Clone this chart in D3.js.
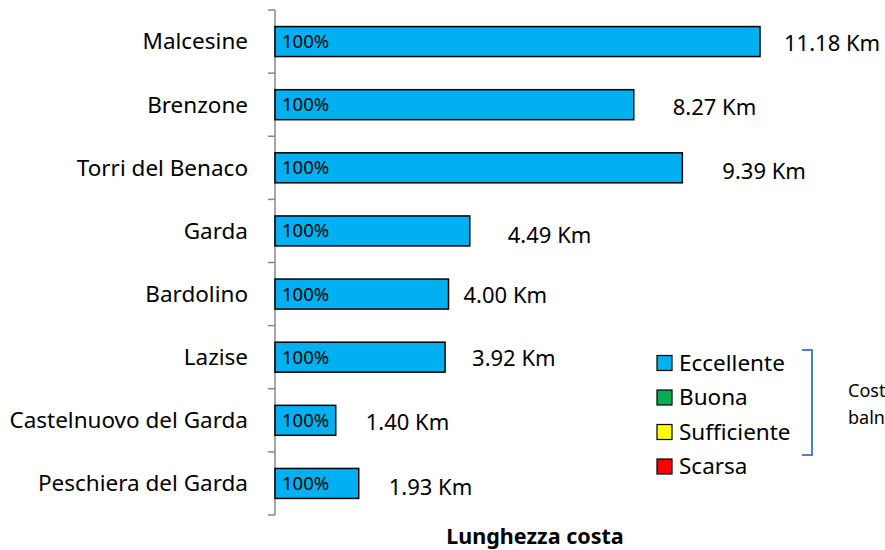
<!DOCTYPE html>
<html><head><meta charset="utf-8">
<script src="https://cdn.jsdelivr.net/npm/d3@7"></script>
<style>body{margin:0;background:#fff;} svg{display:block;font-family:"Noto Sans", "Open Sans", sans-serif;}</style>
</head><body>
<svg id="c" width="885" height="550"></svg>
<script>
const categories = ["Malcesine","Brenzone","Torri del Benaco","Garda","Bardolino","Lazise","Castelnuovo del Garda","Peschiera del Garda"];
const lengthKm = [11.18, 8.27, 9.39, 4.49, 4.00, 3.92, 1.40, 1.93];
const sharePct = [100, 100, 100, 100, 100, 100, 100, 100];
const legendLabels = ["Eccellente","Buona","Sufficiente","Scarsa"];
const legendColors = ["#00B0F0","#00B050","#FFFF00","#FF0000"];
const axisTitle = "Lunghezza costa";
const sideNote = ["Cost","baln"];

// layout of the manually placed value labels (pixels, gap after bar end / vertical nudge)
const labelGap = [24, 39, 40, 38, 15, 27, 30, 30];
const labelNudge = [2, 3, 3, 4, 1, 1, 2, 4];

const svg = d3.select("#c");
const x0 = 275;
const x = d3.scaleLinear().domain([0, 11.18]).range([x0, 760]);
const y = d3.scaleBand().domain(categories).range([10, 515]).paddingInner(0.525).paddingOuter(0.2625);

// axis
const ax = svg.append("g");
ax.append("line").attr("x1",x0).attr("x2",x0).attr("y1",10).attr("y2",515).attr("stroke","#888").attr("stroke-width",1.5);
const tickYs = d3.range(categories.length+1).map(i => 10 + i*y.step());
ax.selectAll("line.t").data(tickYs).join("line").attr("class","t")
  .attr("x1",x0-7).attr("x2",x0).attr("y1",d=>d).attr("y2",d=>d).attr("stroke","#888").attr("stroke-width",1.5);

// category labels
svg.selectAll("text.cat").data(categories).join("text").attr("class","cat")
  .attr("x",248).attr("y",d=>y(d)+y.bandwidth()/2).attr("dy","0.35em")
  .attr("text-anchor","end").attr("font-size",22.5).attr("fill","#000").text(d=>d);

// bars
svg.selectAll("rect.bar").data(categories).join("rect").attr("class","bar")
  .attr("x",x0).attr("y",d=>y(d)).attr("width",(d,i)=>x(lengthKm[i])-x0).attr("height",y.bandwidth())
  .attr("fill","#00B0F0").attr("stroke","#000").attr("stroke-width",1.5);

// inside labels
svg.selectAll("text.pct").data(categories).join("text").attr("class","pct")
  .attr("x",x0+7).attr("y",d=>y(d)+y.bandwidth()/2).attr("dy","0.35em")
  .attr("font-size",18.5).attr("fill","#000").text((d,i)=>sharePct[i]+"%");

// value labels
svg.selectAll("text.val").data(categories).join("text").attr("class","val")
  .attr("x",(d,i)=>x(lengthKm[i])+labelGap[i]).attr("y",(d,i)=>y(d)+y.bandwidth()/2+labelNudge[i]).attr("dy","0.35em")
  .attr("font-size",22).attr("fill","#000").text((d,i)=>lengthKm[i].toFixed(2)+" Km");

// axis title
svg.append("text").attr("x",535).attr("y",544).attr("text-anchor","middle")
  .attr("font-size",21.5).attr("font-weight","bold").text(axisTitle);

// legend
const lg = svg.append("g");
legendLabels.forEach((l,i)=>{
  const cy = 363 + i*34.5;
  lg.append("rect").attr("x",657).attr("y",cy-7.5).attr("width",15).attr("height",15)
    .attr("fill",legendColors[i]).attr("stroke","#000").attr("stroke-width",1.2);
  lg.append("text").attr("x",679).attr("y",cy).attr("dy","0.35em").attr("font-size",22.5).text(l);
});
svg.append("path").attr("d","M802,350 H812 V455 H802").attr("fill","none").attr("stroke","#4F81BD").attr("stroke-width",2);
sideNote.forEach((t,i)=>{
  svg.append("text").attr("x",848).attr("y",391+i*27).attr("dy","0.35em").attr("font-size",18).text(t);
});
</script>
</body></html>
